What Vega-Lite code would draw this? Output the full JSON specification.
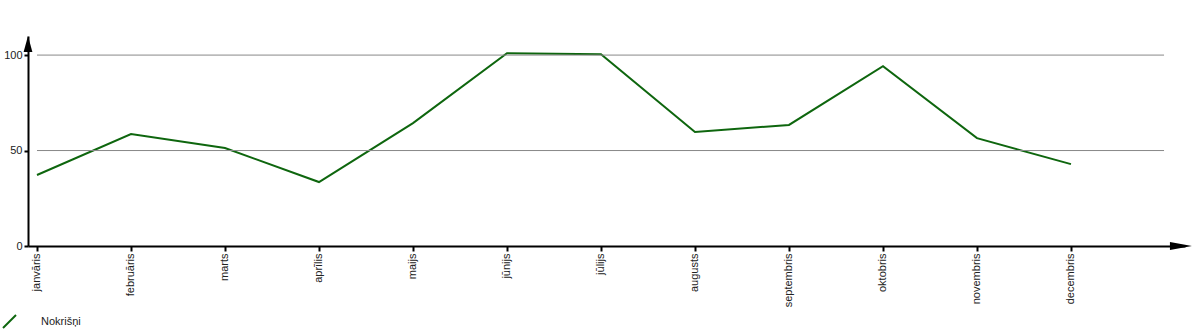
{
  "$schema": "https://vega.github.io/schema/vega-lite/v6.json",
  "width": 1157,
  "height": 210,
  "autosize": {"type": "none"},
  "padding": {"left": 28, "top": 36, "right": 15, "bottom": 84},
  "background": "white",
  "config": {"view": {"stroke": null}, "font": "Liberation Sans"},
  "datasets": {
    "rain": [
      {"m": 0, "month": "janvāris", "v": 37.2, "s": "Nokrišņi"},
      {"m": 1, "month": "februāris", "v": 58.6, "s": "Nokrišņi"},
      {"m": 2, "month": "marts", "v": 51.3, "s": "Nokrišņi"},
      {"m": 3, "month": "aprīlis", "v": 33.5, "s": "Nokrišņi"},
      {"m": 4, "month": "maijs", "v": 64.4, "s": "Nokrišņi"},
      {"m": 5, "month": "jūnijs", "v": 101.0, "s": "Nokrišņi"},
      {"m": 6, "month": "jūlijs", "v": 100.5, "s": "Nokrišņi"},
      {"m": 7, "month": "augusts", "v": 59.7, "s": "Nokrišņi"},
      {"m": 8, "month": "septembris", "v": 63.4, "s": "Nokrišņi"},
      {"m": 9, "month": "oktobris", "v": 94.2, "s": "Nokrišņi"},
      {"m": 10, "month": "novembris", "v": 56.5, "s": "Nokrišņi"},
      {"m": 11, "month": "decembris", "v": 42.9, "s": "Nokrišņi"}
    ]
  },
  "layer": [
    {
      "data": {"name": "rain"},
      "mark": {"type": "line", "strokeWidth": 2},
      "encoding": {
        "x": {
          "field": "m", "type": "quantitative",
          "scale": {"domain": [-0.0957, 12.213], "nice": false, "zero": false},
          "axis": {
            "title": null,
            "values": [0, 1, 2, 3, 4, 5, 6, 7, 8, 9, 10, 11],
            "labelExpr": "['janvāris','februāris','marts','aprīlis','maijs','jūnijs','jūlijs','augusts','septembris','oktobris','novembris','decembris'][datum.value]",
            "labelAngle": 270,
            "labelFontSize": 11,
            "labelColor": "#222",
            "labelPadding": 2,
            "labelFlush": false,
            "labelOverlap": false,
            "grid": false,
            "domainColor": "black",
            "domainWidth": 2,
            "tickColor": "black",
            "tickWidth": 2,
            "tickSize": 5
          }
        },
        "y": {
          "field": "v", "type": "quantitative",
          "scale": {"domain": [0, 110], "nice": false},
          "axis": {
            "title": null,
            "values": [0, 50, 100],
            "grid": false,
            "labelFontSize": 11,
            "labelColor": "#222",
            "labelPadding": 2,
            "domainColor": "black",
            "domainWidth": 2,
            "tickColor": "black",
            "tickWidth": 2,
            "tickSize": 4
          }
        },
        "color": {
          "field": "s", "type": "nominal",
          "scale": {"range": ["#0e660e"]},
          "legend": {
            "orient": "none",
            "legendX": -26,
            "legendY": 278,
            "title": null,
            "symbolType": "M-1,1L1,-1",
            "symbolSize": 169,
            "symbolStrokeWidth": 2,
            "labelFontSize": 11,
            "labelColor": "#222",
            "labelOffset": 24,
            "padding": 0
          }
        }
      }
    },
    {
      "data": {"values": [{"v": 50}, {"v": 100}]},
      "mark": {"type": "rule", "color": "#888", "strokeWidth": 1},
      "encoding": {
        "y": {"field": "v", "type": "quantitative"},
        "x": {"datum": 0.0},
        "x2": {"datum": 11.99}
      }
    },
    {
      "data": {"values": [{"m": 12.17, "v": 0}]},
      "mark": {"type": "point", "shape": "M-1,-0.36L1,0L-1,0.36Z", "size": 484, "filled": true, "color": "black", "opacity": 1},
      "encoding": {
        "x": {"field": "m", "type": "quantitative"},
        "y": {"field": "v", "type": "quantitative"}
      }
    },
    {
      "data": {"values": [{"m": -0.0957, "v": 105.8}]},
      "mark": {"type": "point", "shape": "M0,-1L0.55,1L-0.55,1Z", "size": 256, "filled": true, "color": "black", "opacity": 1},
      "encoding": {
        "x": {"field": "m", "type": "quantitative"},
        "y": {"field": "v", "type": "quantitative"}
      }
    }
  ]
}
